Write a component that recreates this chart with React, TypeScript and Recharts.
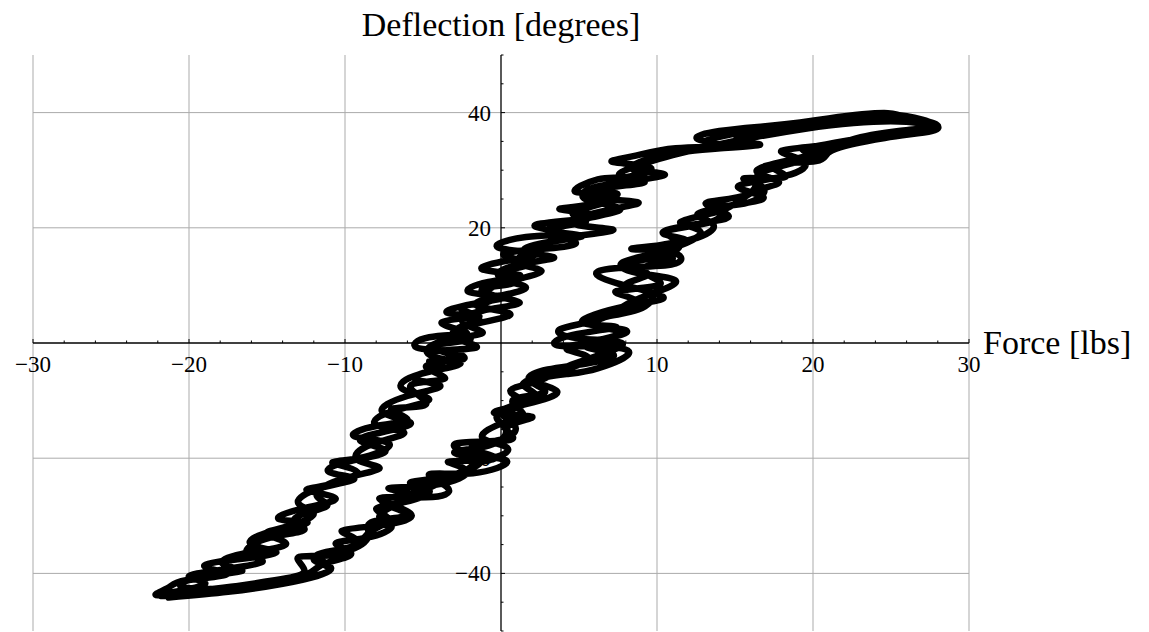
import React from "react";
import {
  LineChart,
  Line,
  XAxis,
  YAxis,
  ReferenceLine,
  ReferenceDot,
} from "recharts";

const FONT = "'Liberation Serif', 'Times New Roman', serif";

const X_GRID = [-30, -20, -10, 10, 20, 30];
const X_LABELS = [-30, -20, -10, 10, 20, 30];
const X_MINOR = [-28, -26, -24, -22, -18, -16, -14, -12, -8, -6, -4, -2, 2, 4, 6, 8, 12, 14, 16, 18, 22, 24, 26, 28];
const Y_GRID = [-40, -20, 20, 40];
const Y_LABELS = [-40, -20, 20, 40];
const Y_MINOR = [-50, -45, -35, -30, -25, -15, -10, -5, 5, 10, 15, 25, 30, 35, 45, 50];

const X_TITLE = "Force [lbs]";
const Y_TITLE = "Deflection [degrees]";

// [force, deflection] pairs
const cycle1: [number, number][] = [
  [-21.3, -44.2], [-17.5, -43.2], [-14, -41.8], [-11, -39.5], [-12, -37.6], [-10, -36.2], [-8.5, -33.5],
  [-8.2, -31], [-6, -29.8], [-7.6, -27.6], [-5.5, -26], [-3.8, -24], [-2.5, -22.3], [-1.4, -20.5],
  [-3, -19], [-0.8, -17.8], [0.3, -15], [-0.2, -12.5], [1.5, -10.5], [0.6, -8.3], [2.5, -6.5],
  [4.5, -3.8], [7.8, -0.3], [5, 0.8], [3.8, 2.4], [6.2, 4], [7.8, 6.3], [9.5, 8.4], [11.2, 10.8],
  [8.7, 12.2], [7.8, 14], [10.4, 16], [12.8, 19.2], [11.5, 21], [14.3, 23.2], [16.2, 26.3], [17.8, 28],
  [16.4, 30], [19.6, 32.5], [22.5, 35.3], [25.5, 36.8], [27.9, 37.7],
  [26.5, 38.5], [24.8, 39.9], [21, 39], [17.5, 37.6], [14, 35.8], [13.4, 34.6], [15.6, 34.2], [12, 33.3],
  [9.5, 31.8], [8.4, 30.2], [10.5, 29.2], [7.3, 27.5], [6.2, 25.3], [8.8, 24.4], [6.4, 22.8], [4.8, 20.6],
  [7.2, 19.6], [4, 18.2], [2.3, 16.4], [1, 14], [2.6, 12.5], [0.4, 10.6], [-0.7, 8.5], [1.2, 7],
  [-1.2, 5.6], [-2.4, 3.4], [-1.2, 1.7], [-3.8, 0.3], [-4.5, -2.2], [-2.6, -3.6], [-5.2, -5.4], [-6.3, -8],
  [-4.6, -9.8], [-6.9, -11.8], [-8, -14.2], [-6.2, -15.6], [-8.3, -17.6], [-9.2, -20.3], [-7.8, -21.8],
  [-10.4, -23.8], [-11.8, -26.6], [-11.2, -28.4], [-13.2, -30.4], [-12.6, -32.4], [-14.8, -33.8],
  [-16.3, -36.4], [-15.3, -38], [-18, -39.4], [-20, -40.6], [-19, -41.9], [-21.6, -43.6],
];

const cycle2: [number, number][] = [
  [-20.5, -43.8], [-16, -42.6], [-12.5, -40.8], [-10.9, -39], [-11.8, -36.8], [-9.6, -35.4], [-8.4, -32.8],
  [-7.2, -30.6], [-8, -28.8], [-6.2, -27.6], [-4.6, -25.6], [-5.8, -24.2], [-3, -23], [-1.6, -21],
  [-0.4, -19.8], [-1.9, -18.2], [0.2, -16.6], [0.8, -14], [0.1, -11.6], [2.2, -9.4], [1.4, -7.2],
  [3.4, -5.2], [5.6, -2.6], [4.2, -1], [6.4, 0.6], [8, 2.2], [5.6, 3.4], [7, 5.2], [8.6, 7.4], [7.4, 9],
  [10.2, 10.2], [9, 12.8], [11, 14.6], [9.6, 16.4], [12.2, 18], [13.6, 20.6], [12.6, 22.4], [15, 24],
  [16.8, 25.4], [15.2, 27.2], [18.2, 29], [19.4, 31.6], [18, 33.4], [21.5, 34.6], [24.5, 36.4],
  [27.2, 37.4], [26, 38.4],
  [22.6, 38.2], [19.5, 37.2], [16.4, 35.8], [13.8, 34.4], [11, 32.6], [9, 31], [7.6, 29], [9.2, 27.9],
  [6.5, 26.8], [5.4, 25], [7.6, 23.4], [5.8, 21.8], [3.4, 19.6], [5.2, 18.6], [2.8, 17.4], [1.6, 15.8],
  [3.4, 14.8], [0.8, 13.4], [0, 11.2], [1.6, 9.6], [-0.4, 8], [-1.5, 6.4], [0.6, 5], [-1.8, 3.2],
  [-3, 1], [-1.6, -0.8], [-4.4, -1.6], [-3.8, -3.8], [-5.6, -6], [-3.9, -7.4], [-6, -9.2], [-7.6, -12],
  [-5.8, -13.8], [-7.5, -15.4], [-9, -17], [-7.4, -18.8], [-9.8, -20.6], [-11, -22.4], [-9.4, -23.6],
  [-11.6, -25.2], [-13, -27.8], [-12, -29.6], [-13.6, -31.8], [-15, -33.2], [-13.8, -35], [-16.6, -36.6],
  [-17.8, -38.4], [-16.6, -39.6], [-19.2, -40.6], [-20.4, -42.4], [-18.6, -42.8], [-20.8, -43.4],
];

const cycle3: [number, number][] = [
  [-15.2, -41.6], [-12.2, -39.8], [-11.2, -38.2], [-9.6, -36.6], [-10.6, -34.8], [-8.6, -33.8],
  [-7, -31.8], [-7.8, -30.2], [-6.6, -28], [-5.6, -26.4], [-7.2, -25.2], [-4.2, -24.6], [-2.2, -22.2],
  [-3.4, -20.6], [-1, -20.2], [0.4, -18.2], [-1.2, -16.4], [0.2, -13.8], [1.4, -12.2], [0.8, -9.8],
  [2.8, -8.6], [1.8, -6.4], [3, -4.6], [5.4, -3.6], [7.2, -2], [5.4, -0.4], [7.6, 1.6], [6.2, 3],
  [6.8, 4.6], [8.8, 5.8], [9.6, 8.6], [8, 10.2], [9.4, 12], [7.8, 13.6], [10.2, 15], [11.4, 17.4],
  [10.6, 19.4], [13.2, 20.8], [14, 23], [13.2, 24.4], [15.8, 25.8], [16.4, 28.8], [17.8, 30.6],
  [20.4, 32.8], [19.4, 33.6], [23.2, 35.6], [26.4, 37], [28, 37.6],
  [27, 38.8], [25, 39.6], [22, 38.6], [18.6, 37], [15, 35.2], [16.6, 34.4], [13, 33.6], [10.4, 32.6],
  [8.4, 30.6], [9, 28.6], [6.6, 27.4], [5.4, 25.8], [6.6, 24.4], [4.6, 22.6], [5.4, 21], [3, 19.6],
  [4.8, 17.4], [2, 16.2], [0.2, 15.2], [1.8, 13.6], [-0.2, 12.2], [0.8, 10.4], [-1.2, 9.4], [-0.6, 7.4],
  [-2.6, 6.2], [-1.4, 4.2], [-2.8, 2.4], [-2, 0.6], [-4.4, -0.6], [-2.8, -2.6], [-4.8, -4], [-3.6, -6.2],
  [-5.8, -7.4], [-4.8, -10.6], [-7, -11.4], [-6, -13.2], [-8, -14.4], [-9.4, -16.2], [-7.2, -17.4],
  [-8.8, -19.8], [-10.8, -20.8], [-9.2, -22.4], [-11, -24.6], [-12.4, -25.6], [-10.6, -27], [-12.8, -28.8],
  [-14.2, -30.6], [-12.4, -31.2], [-14.8, -32.8], [-16, -35], [-14.4, -36.4], [-17, -37.6], [-19, -38.8],
  [-17.6, -40.2], [-20.2, -41.2], [-21.4, -42.6], [-22, -43.8],
];

const cycle4: [number, number][] = [
  [-18.5, -42.8], [-14.5, -41.2], [-12.6, -39.6], [-13, -37.2], [-10.8, -36.8], [-9.2, -34.4],
  [-10.2, -32.6], [-7.6, -31.6], [-5.8, -29.6], [-7.8, -27], [-4.8, -26.8], [-3.4, -25.2], [-4.6, -22.8],
  [-1.8, -22.6], [0.4, -20.6], [-1.6, -19.4], [-2.8, -17.4], [0.6, -16.8], [0.4, -14.6], [2, -12.8],
  [-0.4, -12.2], [1.6, -10.6], [3.6, -8.4], [2.2, -6.6], [4.2, -5.4], [6.2, -4.4], [8.2, -1.8],
  [6.4, -0.6], [3.6, -0.4], [4.6, 1.4], [7.4, 2.8], [5.2, 3.6], [8, 6.4], [10.4, 8], [7.4, 10.4],
  [6.2, 12.4], [8.6, 13.2], [11.2, 13.8], [10.8, 15.8], [8.4, 16.4], [11.8, 17.6], [10.4, 19],
  [12.4, 20.6], [14.6, 22], [13.4, 23.6], [15.6, 24.2], [16.8, 27], [15.6, 28.6], [18.2, 28.8],
  [17.4, 30.8], [20.2, 31.6], [21.2, 33.4], [24.6, 35.6], [27.6, 36.8], [27.8, 38],
  [26, 39.2], [23, 39.4], [19.6, 38.4], [16.8, 37.6], [14, 36.8], [12.6, 35.4], [14.2, 34.2], [11.2, 33.8],
  [8.4, 32.4], [7.2, 31.4], [9.6, 30.4], [8, 28.8], [6.2, 28.4], [4.8, 26.2], [7.4, 26], [5.6, 24],
  [3.8, 23.2], [6, 22.2], [4, 21.2], [2.2, 20.2], [4.2, 19], [1.6, 18.4], [-0.2, 16.6], [2.2, 15.6],
  [0.6, 14.4], [-1.2, 12.8], [1.2, 11.8], [-0.8, 10.6], [-2, 8.8], [0.2, 8], [-1.8, 6.8], [-3.4, 5.2],
  [-1.4, 4.6], [-3.8, 3.6], [-2.2, 1.8], [-4.6, 1], [-5.4, -0.8], [-3.4, -1.4], [-2.4, -2.8], [-4.6, -3.2],
];

const data = [...cycle1, ...cycle2, ...cycle3, ...cycle4].map(([force, deflection]) => ({ force, deflection }));

const fmt = (v: number) => (v < 0 ? "\u2212" + Math.abs(v) : String(v));

const xTickShape = (len: number, label?: string) => (props: any) => {
  const { cx, cy } = props;
  return (
    <g>
      <line x1={cx} y1={cy} x2={cx} y2={cy - len} stroke="#000" strokeWidth={1} />
      {label !== undefined && (
        <text x={cx} y={cy + 29} textAnchor="middle" fontFamily={FONT} fontSize={23} fill="#000">
          {label}
        </text>
      )}
    </g>
  );
};

const yTickShape = (len: number, label?: string) => (props: any) => {
  const { cx, cy } = props;
  return (
    <g>
      <line x1={cx} y1={cy} x2={cx + len} y2={cy} stroke="#000" strokeWidth={1} />
      {label !== undefined && (
        <text x={cx - 10} y={cy + 8} textAnchor="end" fontFamily={FONT} fontSize={23} fill="#000">
          {label}
        </text>
      )}
    </g>
  );
};

const yTitleShape = (props: any) => (
  <text x={props.cx} y={props.cy - 19} textAnchor="middle" fontFamily={FONT} fontSize={34} fill="#000">
    {Y_TITLE}
  </text>
);

const xTitleShape = (props: any) => (
  <text x={props.cx + 14} y={props.cy + 11} textAnchor="start" fontFamily={FONT} fontSize={34} fill="#000">
    {X_TITLE}
  </text>
);

export default function App() {
  return (
    <div>
      <style>{"html,body{margin:0;padding:0;overflow:hidden;background:#fff;}"}</style>
      <LineChart
        width={1149}
        height={632}
        data={data}
        margin={{ top: 55, right: 180, bottom: 1, left: 33 }}
      >
        <XAxis dataKey="force" type="number" domain={[-30, 30]} hide />
        <YAxis type="number" domain={[-50, 50]} hide />
        {X_GRID.map((v) => (
          <ReferenceLine key={"gx" + v} x={v} stroke="#ababab" strokeWidth={1} />
        ))}
        {Y_GRID.map((v) => (
          <ReferenceLine key={"gy" + v} y={v} stroke="#ababab" strokeWidth={1} />
        ))}
        <Line
          dataKey="deflection"
          type="natural"
          stroke="#000"
          strokeWidth={6.5}
          strokeLinejoin="round"
          strokeLinecap="round"
          dot={false}
          isAnimationActive={false}
        />
        <ReferenceLine y={0} stroke="#000" strokeWidth={1.3} />
        <ReferenceLine x={0} stroke="#000" strokeWidth={1.3} />
        {X_MINOR.map((v) => (
          <ReferenceDot key={"xm" + v} x={v} y={0} r={0} shape={xTickShape(2.5)} />
        ))}
        {X_LABELS.map((v) => (
          <ReferenceDot key={"xl" + v} x={v} y={0} r={0} shape={xTickShape(4, fmt(v))} />
        ))}
        {Y_MINOR.map((v) => (
          <ReferenceDot key={"ym" + v} x={0} y={v} r={0} shape={yTickShape(2.5)} />
        ))}
        {Y_LABELS.map((v) => (
          <ReferenceDot key={"yl" + v} x={0} y={v} r={0} shape={yTickShape(4, fmt(v))} />
        ))}
        <ReferenceDot x={0} y={50} r={0} shape={yTitleShape} />
        <ReferenceDot x={30} y={0} r={0} shape={xTitleShape} />
      </LineChart>
    </div>
  );
}
